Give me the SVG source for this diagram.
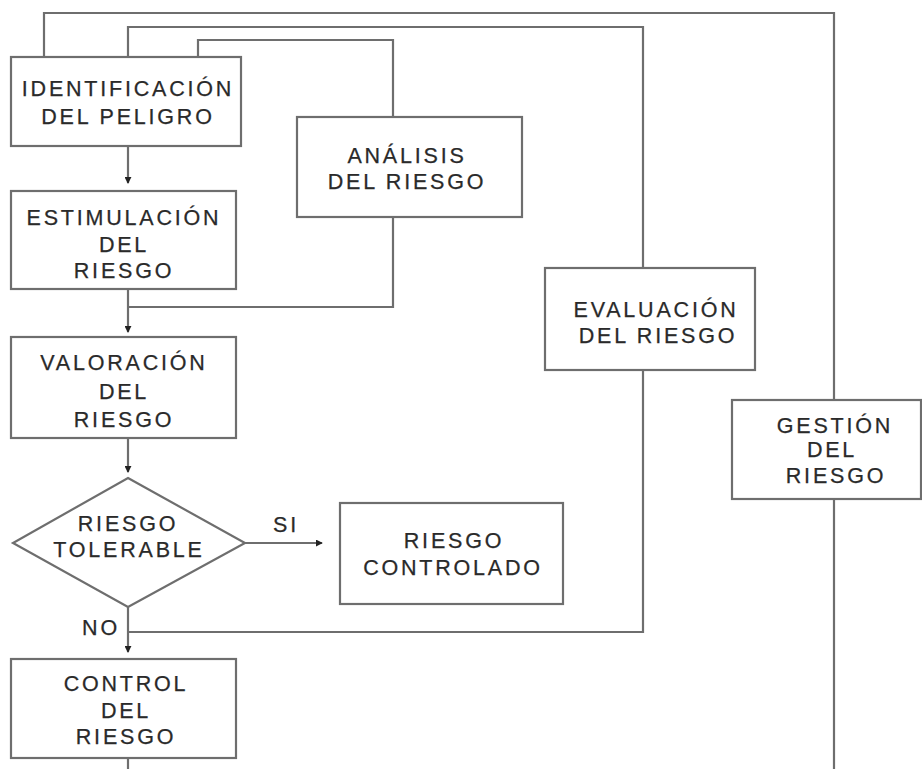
<svg xmlns="http://www.w3.org/2000/svg" width="922" height="769" viewBox="0 0 922 769">
<style>
.box{fill:#fff;stroke:#6e6e6e;stroke-width:2.2}
.ln{fill:none;stroke:#6e6e6e;stroke-width:2.2}
.arr{fill:none;stroke:#6e6e6e;stroke-width:2.2;marker-end:url(#ah)}
text{font-family:"Liberation Sans",Arial,sans-serif;font-size:21.5px;fill:#2a2a2a;stroke:#2a2a2a;stroke-width:0.25;letter-spacing:2.8px;text-anchor:middle}
</style>
<defs>
<marker id="ah" viewBox="0 0 8 8" refX="7" refY="4" markerWidth="7" markerHeight="7" markerUnits="userSpaceOnUse" orient="auto">
<path d="M0,0 L8,4 L0,8 z" fill="#222"/>
</marker>
</defs>
<rect width="922" height="769" fill="#fff"/>
<g id="connectors">
<path class="arr" d="M128,146 V183"/>
<path class="arr" d="M128,289 V332"/>
<path class="arr" d="M128,438 V472"/>
<path class="arr" d="M245,543 H322"/>
<path class="arr" d="M128,607 V652"/>
<path class="ln" d="M128,758 V769"/>
<path class="ln" d="M198,57 V40 H393 V117"/>
<path class="ln" d="M393,217 V307 H128"/>
<path class="ln" d="M128,57 V27 H643 V268"/>
<path class="ln" d="M643,370 V632 H128"/>
<path class="ln" d="M44,57 V13 H834 V400"/>
<path class="ln" d="M834,499 V769"/>
</g>
<g id="identificacion">
<rect class="box" x="11" y="57" width="230" height="89"/>
<text x="128" y="96">IDENTIFICACIÓN</text>
<text x="128" y="124">DEL PELIGRO</text>
</g>
<g id="estimulacion">
<rect class="box" x="11" y="191" width="225" height="98"/>
<text x="124" y="225">ESTIMULACIÓN</text>
<text x="124" y="252">DEL</text>
<text x="124" y="278">RIESGO</text>
</g>
<g id="valoracion">
<rect class="box" x="11" y="337" width="225" height="101"/>
<text x="124" y="370">VALORACIÓN</text>
<text x="124" y="399">DEL</text>
<text x="124" y="427">RIESGO</text>
</g>
<g id="tolerable">
<polygon class="box" points="128,478 245,543 128,607 13,543"/>
<text x="128" y="531">RIESGO</text>
<text x="129" y="557">TOLERABLE</text>
</g>
<g id="labels">
<text x="286" y="532">SI</text>
<text x="101" y="635">NO</text>
</g>
<g id="controlado">
<rect class="box" x="340" y="503" width="223" height="101"/>
<text x="454" y="548">RIESGO</text>
<text x="453" y="575">CONTROLADO</text>
</g>
<g id="control">
<rect class="box" x="11" y="659" width="225" height="99"/>
<text x="126" y="691">CONTROL</text>
<text x="126" y="718">DEL</text>
<text x="126" y="744">RIESGO</text>
</g>
<g id="analisis">
<rect class="box" x="297" y="117" width="225" height="100"/>
<text x="407" y="163">ANÁLISIS</text>
<text x="407" y="189">DEL RIESGO</text>
</g>
<g id="evaluacion">
<rect class="box" x="545" y="268" width="210" height="102"/>
<text x="656" y="317">EVALUACIÓN</text>
<text x="658" y="343">DEL RIESGO</text>
</g>
<g id="gestion">
<rect class="box" x="732" y="400" width="189" height="99"/>
<text x="835" y="433">GESTIÓN</text>
<text x="832" y="457">DEL</text>
<text x="836" y="483">RIESGO</text>
</g>
</svg>
